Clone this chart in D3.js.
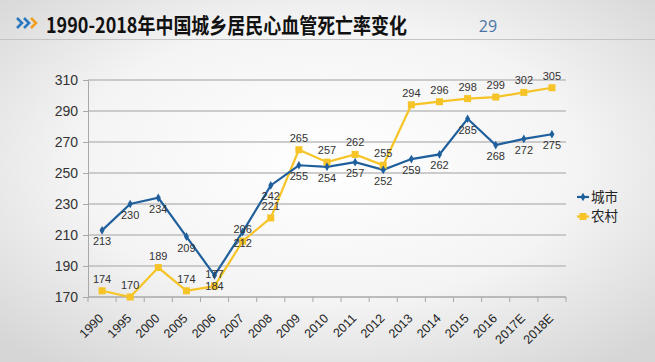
<!DOCTYPE html>
<html>
<head>
<meta charset="utf-8">
<script src="https://cdn.jsdelivr.net/npm/d3@7"></script>
<style>
  body { margin: 0; padding: 0; overflow: hidden; }
  svg { display: block; }
</style>
</head>
<body>
<div id="chart"></div>
<script>
// data
const years = ['1990', '1995', '2000', '2005', '2006', '2007', '2008', '2009', '2010',
    '2011', '2012', '2013', '2014', '2015', '2016', '2017E', '2018E'];
const urban = [213, 230, 234, 209, 184, 212, 242, 255, 254, 257, 252, 259, 262, 285, 268, 272, 275];
const rural = [174, 170, 189, 174, 177, 206, 221, 265, 257, 262, 255, 294, 296, 298, 299, 302, 305];
const yTicks = [170, 190, 210, 230, 250, 270, 290, 310];
const seriesNames = ['城市', '农村'];

const width = 655, height = 362;
const margin = { top: 80, right: 89, bottom: 65, left: 88 };
const blue = '#1f5f9c', yellow = '#f6c426';

const svg = d3.select('#chart').append('svg')
    .attr('width', width)
    .attr('height', height);

// slide background: light radial gradient
const defs = svg.append('defs');
const grad = defs.append('radialGradient')
    .attr('id', 'bg')
    .attr('cx', '50%').attr('cy', '45%').attr('r', '70%');
grad.append('stop').attr('offset', '0%').attr('stop-color', '#ffffff');
grad.append('stop').attr('offset', '55%').attr('stop-color', '#f4f4f4');
grad.append('stop').attr('offset', '100%').attr('stop-color', '#d6d6d6');
svg.append('rect')
    .attr('width', width)
    .attr('height', height)
    .attr('fill', 'url(#bg)');

// header
const chev = svg.append('g').attr('fill', 'none').attr('stroke-width', 2.6);
[['#2a78c0', 17], ['#2a78c0', 24], ['#f0a020', 31]].forEach(([c, x]) => {
    chev.append('path')
        .attr('d', `M${x},18 L${x + 5},23 L${x},28`)
        .attr('stroke', c);
});
svg.append('text')
    .attr('x', 46)
    .attr('y', 33)
    .attr('font-family', '"Noto Sans CJK SC", sans-serif')
    .attr('font-weight', 'bold')
    .attr('fill', '#111')
    .attr('font-size', 21)
    .attr('textLength', 361)
    .attr('lengthAdjust', 'spacingAndGlyphs')
    .text('1990-2018年中国城乡居民心血管死亡率变化');
svg.append('text')
    .attr('x', 488)
    .attr('y', 32)
    .attr('text-anchor', 'middle')
    .attr('font-family', '"Open Sans", sans-serif')
    .attr('font-size', 16)
    .attr('fill', '#4c73a6')
    .text('29');
svg.append('line')
    .attr('x1', 0).attr('x2', width)
    .attr('y1', 39.5).attr('y2', 39.5)
    .attr('stroke', '#c4c4c4')
    .attr('stroke-width', 1);

const innerW = width - margin.left - margin.right;
const innerH = height - margin.top - margin.bottom;

const x = d3.scaleBand()
    .domain(years)
    .range([0, innerW])
    .padding(0);
const y = d3.scaleLinear()
    .domain([170, 310])
    .range([innerH, 0]);

const chart = svg.append('g')
    .attr('transform', `translate(${margin.left},${margin.top})`);

// gridlines
chart.selectAll('.grid')
    .data(yTicks.slice(1))
    .join('line')
    .attr('class', 'grid')
    .attr('x1', 0).attr('x2', innerW)
    .attr('y1', d => y(d)).attr('y2', d => y(d))
    .attr('stroke', '#bdbdbd')
    .attr('stroke-width', 1.5);

// y axis
const yAxisG = chart.append('g')
    .call(d3.axisLeft(y).tickValues(yTicks).tickSize(5).tickPadding(5));
yAxisG.select('.domain').attr('stroke', '#a8a8a8');
yAxisG.selectAll('.tick line').attr('stroke', '#a8a8a8');
yAxisG.selectAll('text')
    .attr('font-family', '"Liberation Sans", Arial, sans-serif')
    .attr('font-size', 14)
    .attr('fill', '#333');

// x axis: ticks at band edges, labels rotated
const edges = years.map(d => x(d)).concat([innerW]);
const xAxisG = chart.append('g')
    .attr('transform', `translate(0,${innerH})`);
xAxisG.append('line')
    .attr('x1', 0).attr('x2', innerW)
    .attr('stroke', '#a8a8a8').attr('stroke-width', 1.5);
xAxisG.selectAll('.xtick')
    .data(edges)
    .join('line')
    .attr('class', 'xtick')
    .attr('x1', d => d).attr('x2', d => d)
    .attr('y1', 0).attr('y2', 5)
    .attr('stroke', '#a8a8a8');
xAxisG.selectAll('.xlabel')
    .data(years)
    .join('text')
    .attr('class', 'xlabel')
    .attr('transform', d => `translate(${x(d) + x.bandwidth() / 2 - 1},${19}) rotate(-45)`)
    .attr('text-anchor', 'end')
    .attr('dy', '0.35em')
    .attr('font-family', '"Liberation Sans", Arial, sans-serif')
    .attr('font-size', 12.5)
    .attr('fill', '#222')
    .text(d => d);

// lines
const cx = (d, i) => x(years[i]) + x.bandwidth() / 2;
const line = d3.line()
    .x(cx)
    .y(d => y(d));

chart.append('path')
    .datum(rural)
    .attr('fill', 'none')
    .attr('stroke', yellow)
    .attr('stroke-width', 2.2)
    .attr('d', line);
chart.append('path')
    .datum(urban)
    .attr('fill', 'none')
    .attr('stroke', blue)
    .attr('stroke-width', 2.2)
    .attr('d', line);

// markers
chart.selectAll('.rmark')
    .data(rural)
    .join('rect')
    .attr('class', 'rmark')
    .attr('x', (d, i) => cx(d, i) - 3.5)
    .attr('y', d => y(d) - 3.5)
    .attr('width', 7).attr('height', 7)
    .attr('fill', yellow);
chart.selectAll('.umark')
    .data(urban)
    .join('path')
    .attr('class', 'umark')
    .attr('d', d3.symbol(d3.symbolDiamond, 22))
    .attr('transform', (d, i) => `translate(${cx(d, i)},${y(d)})`)
    .attr('fill', blue);

// data labels
const labelFont = '"Liberation Sans", Arial, sans-serif';
chart.selectAll('.rlabel')
    .data(rural)
    .join('text')
    .attr('class', 'rlabel')
    .attr('x', cx)
    .attr('y', d => y(d) - 8)
    .attr('text-anchor', 'middle')
    .attr('font-family', labelFont)
    .attr('font-size', 11)
    .attr('fill', '#333')
    .text(d => d);
chart.selectAll('.ulabel')
    .data(urban)
    .join('text')
    .attr('class', 'ulabel')
    .attr('x', cx)
    .attr('y', d => y(d) + 15)
    .attr('text-anchor', 'middle')
    .attr('font-family', labelFont)
    .attr('font-size', 11)
    .attr('fill', '#333')
    .text(d => d);

// legend
const legend = svg.append('g')
    .attr('transform', `translate(577,197)`);
[blue, yellow].forEach((c, i) => {
    const g = legend.append('g').attr('transform', `translate(0,${i * 19.5})`);
    g.append('line')
        .attr('x1', 0).attr('x2', 12)
        .attr('stroke', c).attr('stroke-width', 2.2);
    if (i === 0) {
        g.append('path')
            .attr('d', d3.symbol(d3.symbolDiamond, 22))
            .attr('transform', 'translate(6,0)')
            .attr('fill', c);
    } else {
        g.append('rect')
            .attr('x', 2.5).attr('y', -3.5)
            .attr('width', 7).attr('height', 7)
            .attr('fill', c);
    }
    g.append('text')
        .attr('x', 14)
        .attr('dy', '0.35em')
        .attr('font-family', '"Noto Sans CJK SC", sans-serif')
        .attr('font-size', 13.5)
        .attr('fill', '#222')
        .text(seriesNames[i]);
});
</script>
</body>
</html>
